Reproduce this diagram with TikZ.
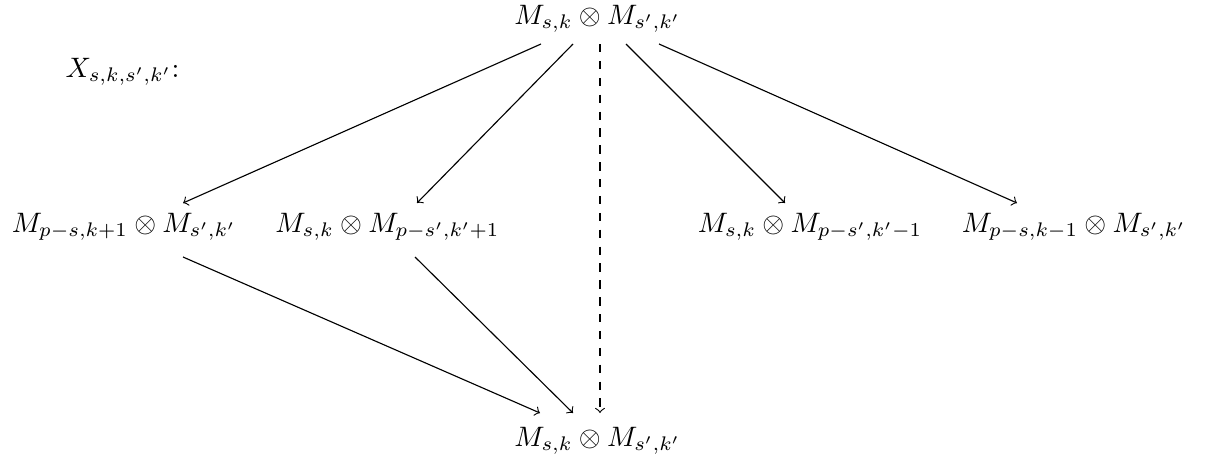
\documentclass[tikz,border=0pt]{standalone}
\usepackage{amssymb}
\usetikzlibrary{calc}

\begin{document}
\begin{tikzpicture}[x=0.0125cm,y=-0.0125cm]
\tikzset{obj/.style={anchor=base,inner sep=0pt}}
\useasboundingbox (0,0) rectangle (1207,463);

\node [obj] (top) at (597.5,24) {$M_{s,k}\otimes M_{s',k'}$};
\node [obj] (bot) at (597.5,446) {$M_{s,k}\otimes M_{s',k'}$};
\node [obj] (lbl) at (122.5,77) {$X_{s,k,s',k'}$:};

\node [obj] (a1) at (124,232) {$M_{p-s,k+1}\otimes M_{s',k'}$};
\node [obj] (a2) at (387.5,232) {$M_{s,k}\otimes M_{p-s',k'+1}$};
\node [obj] (a3) at (810,232) {$M_{s,k}\otimes M_{p-s',k'-1}$};
\node [obj] (a4) at (1074,232) {$M_{p-s,k-1}\otimes M_{s',k'}$};

\draw[->] ($(top.base)+(-56.5,20)$) -- ($(a1.base)+(59,-29)$);
\draw[->] ($(top.base)+(-24.5,20)$) -- ($(a2.base)+(29.5,-29)$);
\draw[->] ($(top.base)+(28.5,20)$) -- ($(a3.base)+(-25,-29)$);
\draw[->] ($(top.base)+(61.5,20)$) -- ($(a4.base)+(-57,-29)$);
\draw[->,dashed] ($(top.base)+(2.5,20)$) -- ($(bot.base)+(2.5,-33)$);

\draw[->] ($(a1.base)+(59,25)$) -- ($(bot.base)+(-57.5,-33)$);
\draw[->] ($(a2.base)+(27.5,25)$) -- ($(bot.base)+(-24.5,-33)$);

\end{tikzpicture}
\end{document}
